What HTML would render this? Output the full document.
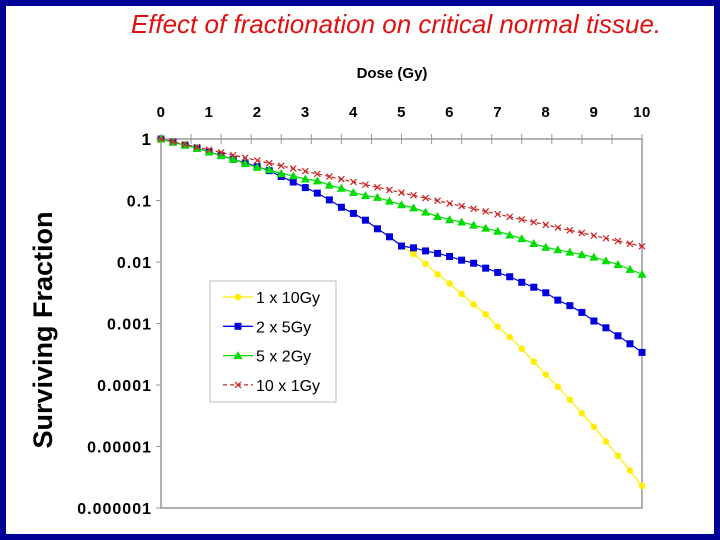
<!DOCTYPE html>
<html><head><meta charset="utf-8"><style>
body{margin:0;width:720px;height:540px;overflow:hidden;background:#000099;}
#frame{position:absolute;left:6px;top:6px;width:708px;height:528px;background:#fff;}
svg{position:absolute;left:0;top:0;}
text{font-family:"Liberation Sans",Arial,sans-serif;}
</style></head><body>
<div id="frame"></div>
<svg id="chart" width="720" height="540"></svg>
<script>
const doses = [];
for (let i = 0; i <= 40; i++) doses.push(i * 0.25);
const xTickLabels = ["0","1","2","3","4","5","6","7","8","9","10"];
const yTickLabels = ["1","0.1","0.01","0.001","0.0001","0.00001","0.000001"];
const seriesNames = ["1 x 10Gy","2 x 5Gy","5 x 2Gy","10  x 1Gy"];
// log10 of surviving fraction at each dose
const log1x10 = [0,-0.05,-0.10,-0.15,-0.21,-0.27,-0.33,-0.39,-0.45,-0.515,-0.61,-0.70,-0.79,-0.88,-0.99,-1.11,-1.21,-1.32,-1.46,-1.59,-1.74,-1.87,-2.03,-2.20,-2.35,-2.52,-2.69,-2.85,-3.05,-3.22,-3.41,-3.62,-3.83,-4.03,-4.24,-4.46,-4.68,-4.92,-5.15,-5.39,-5.64];
const log2x5 = [0,-0.05,-0.10,-0.15,-0.21,-0.27,-0.33,-0.39,-0.45,-0.515,-0.61,-0.70,-0.79,-0.88,-0.99,-1.11,-1.21,-1.32,-1.46,-1.59,-1.74,-1.77,-1.82,-1.86,-1.91,-1.97,-2.02,-2.10,-2.17,-2.24,-2.33,-2.41,-2.50,-2.62,-2.71,-2.82,-2.96,-3.07,-3.20,-3.33,-3.47];
const log5x2 = [0,-0.05,-0.10,-0.15,-0.21,-0.27,-0.33,-0.40,-0.46,-0.50,-0.56,-0.60,-0.65,-0.68,-0.75,-0.80,-0.87,-0.92,-0.95,-1.01,-1.07,-1.12,-1.19,-1.26,-1.31,-1.35,-1.40,-1.45,-1.50,-1.56,-1.62,-1.70,-1.76,-1.80,-1.84,-1.88,-1.92,-1.98,-2.04,-2.12,-2.20];
const log10x1 = [0,-0.044,-0.087,-0.131,-0.175,-0.218,-0.262,-0.305,-0.349,-0.393,-0.436,-0.480,-0.524,-0.567,-0.611,-0.654,-0.698,-0.742,-0.785,-0.829,-0.873,-0.916,-0.960,-1.003,-1.047,-1.091,-1.134,-1.178,-1.222,-1.265,-1.309,-1.353,-1.396,-1.440,-1.484,-1.527,-1.571,-1.614,-1.658,-1.702,-1.745];

const NS="http://www.w3.org/2000/svg";
const svg=document.getElementById('chart');
const L=161,R=642,T=139,B=508;
const xs=d=>L+(R-L)*d/10;
const ys=lg=>T+(B-T)*(-lg)/6;
function mk(tag,attrs,parent){const e=document.createElementNS(NS,tag);for(const k in attrs)e.setAttribute(k,attrs[k]);(parent||svg).appendChild(e);return e;}

let t=mk('text',{x:396,y:33,'text-anchor':'middle','font-size':26,'font-style':'italic',fill:'#e01010'});


t.textContent='Effect of fractionation on critical normal tissue.';
t=mk('text',{x:392,y:78,'text-anchor':'middle','font-size':15,'font-weight':'bold',fill:'#000'});


t.textContent='Dose (Gy)';
t=mk('text',{x:0,y:0,'text-anchor':'middle','font-size':27,'font-weight':'bold',fill:'#000',transform:'translate(52,330) rotate(-90)'});


t.textContent='Surviving Fraction';

let fr=mk('rect',{x:L,y:T,width:R-L,height:B-T,fill:'none',stroke:'#999','stroke-width':1.5});


for(let i=0;i<=16;i++){const x=L+(R-L)*i/16;mk('line',{x1:x,x2:x,y1:T-5,y2:T+5,stroke:'#999'});}
xTickLabels.forEach((s,i)=>{const e=mk('text',{x:xs(+s),y:117,'text-anchor':'middle','font-size':15,'font-weight':'bold','letter-spacing':0.5});


e.textContent=s;});
yTickLabels.forEach((s,i)=>{const y=ys(-i);mk('line',{x1:L-5,x2:L,y1:y,y2:y,stroke:'#999'});
const e=mk('text',{x:152,y:y+6,'text-anchor':'end','font-size':i==0?17:16,'font-weight':'bold','letter-spacing':1});


e.textContent=s;});

function marker(type,x,y,color,g){
 if(type==='diamond')mk('circle',{cx:x,cy:y,r:3.3,fill:color},g);
 else if(type==='square')mk('rect',{x:x-3.5,y:y-3.5,width:7,height:7,fill:color},g);
 else if(type==='tri')mk('polygon',{points:`${x},${y-4.5} ${x-4.5},${y+3.5} ${x+4.5},${y+3.5}`,fill:color},g);
 else {mk('line',{x1:x-3,y1:y-3,x2:x+3,y2:y+3,stroke:color,'stroke-width':1.2},g);mk('line',{x1:x-3,y1:y+3,x2:x+3,y2:y-3,stroke:color,'stroke-width':1.2},g);}
}
const series=[[log1x10,'#ffee00','diamond','series-1x10gy',null],[log2x5,'#0000dd','square','series-2x5gy',null],[log5x2,'#00dd00','tri','series-5x2gy',null],[log10x1,'#cc2222','x','series-10x1gy','4,3']];
series.forEach(([vals,c,m,name,dash])=>{
 const g=mk('g',{});
 
 
 const pts=vals.map((v,i)=>xs(doses[i])+','+ys(v)).join(' ');
 const a={points:pts,fill:'none',stroke:c,'stroke-width':1.2};if(dash)a['stroke-dasharray']=dash;
 mk('polyline',a,g);
 vals.forEach((v,i)=>marker(m,xs(doses[i]),ys(v),c,g));
});

const lg=mk('g',{});


mk('rect',{x:210,y:281,width:126,height:121,fill:'#fff',stroke:'#bbb'},lg);
seriesNames.forEach((s,i)=>{const y=297+i*29.3;const [,c,m,,dash]=series[i];
 const e=mk('g',{},lg);
 
 
 const a={x1:223,x2:253,y1:y,y2:y,stroke:c,'stroke-width':1.3};if(dash)a['stroke-dasharray']=dash;mk('line',a,e);
 marker(m,238,y,c,e);
 const tx=mk('text',{x:256,y:y+6,'font-size':16},e);tx.textContent=s;});
</script>
</body></html>
